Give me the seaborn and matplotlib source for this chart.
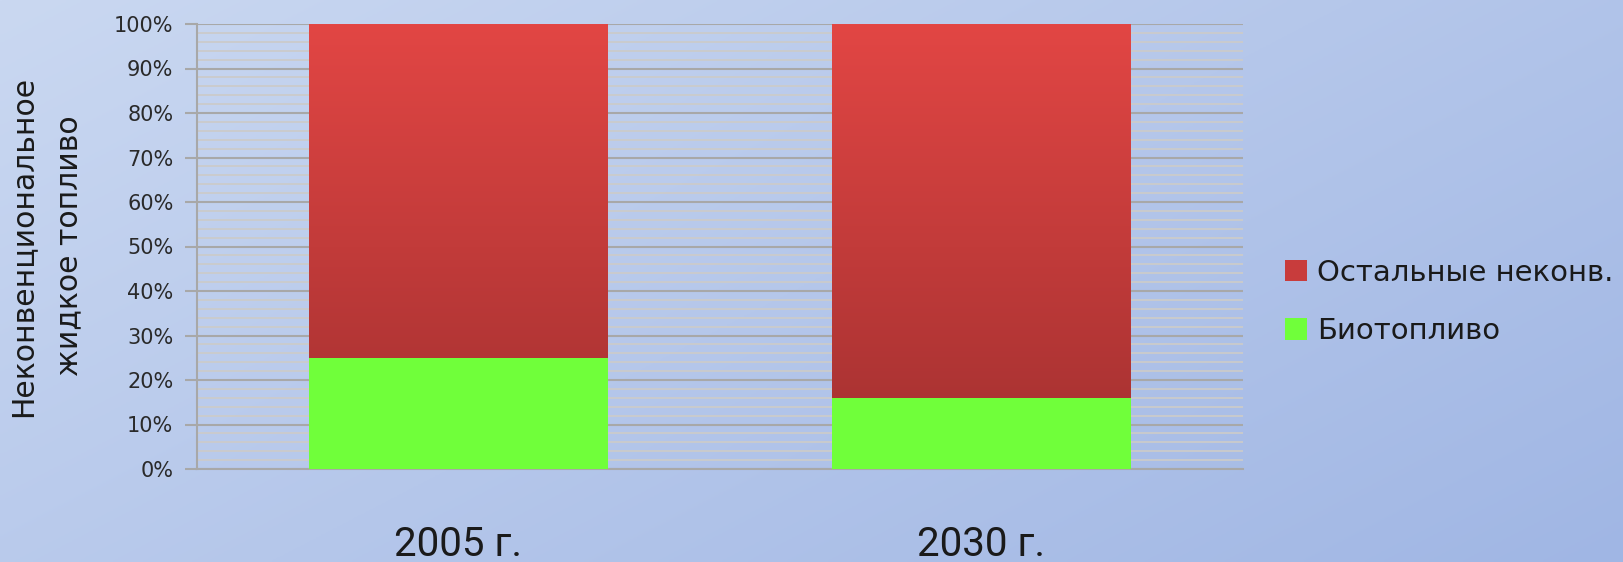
import numpy as np
import pandas as pd
import matplotlib
matplotlib.use("Agg")
import matplotlib.pyplot as plt
import seaborn as sns
from matplotlib.ticker import MultipleLocator, FuncFormatter
from matplotlib.patches import Patch
from matplotlib.colors import LinearSegmentedColormap

# ---- data ----
categories = ["2005 г.", "2030 г."]
bio = [25, 16]
other = [75, 84]
series_names = ["Остальные неконв.", "Биотопливо"]
ylabel = "Неконвенциональное\nжидкое топливо"

sns.set_theme(style="white")
plt.rcParams['font.family'] = ['DejaVu Sans']

W, H = 1624, 562
fig = plt.figure(figsize=(W / 100, H / 100), dpi=100)

# background gradient
bg = fig.add_axes([0, 0, 1, 1], zorder=-10)
yy, xx = np.mgrid[0:1:200j, 0:1:400j]
t = (xx * 0.6 + yy * 0.4)
c0 = np.array([202, 216, 241]) / 255
c1 = np.array([160, 182, 228]) / 255
img = c0[None, None, :] * (1 - t[..., None]) + c1[None, None, :] * t[..., None]
bg.imshow(img, aspect='auto', extent=[0, 1, 0, 1], origin='upper')
bg.set_axis_off()

ax = fig.add_axes([197 / W, 1 - 469 / H, 1046 / W, 445 / H])
ax.set_facecolor('none')

df = pd.DataFrame({"cat": categories, "bio": bio, "other": other})
df["total"] = df["bio"] + df["other"]

sns.barplot(data=df, x="cat", y="total", color="#c83c3c", width=0.57,
            saturation=1, ax=ax, zorder=2, linewidth=0, edgecolor='none')
red_patches = list(ax.patches)
sns.barplot(data=df, x="cat", y="bio", color="#70ff3a", width=0.57,
            saturation=1, ax=ax, zorder=3, linewidth=0, edgecolor='none')

# gradient fill for red bars
red_cmap = LinearSegmentedColormap.from_list("r", ["#a23030", "#e24644"])
grad = np.linspace(0, 1, 256).reshape(-1, 1)
for p in red_patches:
    x0, y0 = p.get_x(), p.get_y()
    w, h = p.get_width(), p.get_height()
    im = ax.imshow(grad, cmap=red_cmap, aspect='auto', origin='lower',
                   extent=[x0, x0 + w, y0, y0 + h], zorder=2.5)
    im.set_clip_path(p)

ax.set_xlim(-0.5, 1.5)
ax.set_ylim(0, 100)
ax.yaxis.set_major_locator(MultipleLocator(10))
ax.yaxis.set_minor_locator(MultipleLocator(2))
ax.yaxis.set_major_formatter(FuncFormatter(lambda v, _: f"{v:.0f}%"))
ax.set_axisbelow(True)
ax.grid(which='minor', axis='y', color='#cbcbcb', linewidth=1.3, zorder=0)
ax.grid(which='major', axis='y', color='#a8a8a8', linewidth=1.5, zorder=0.5)
ax.grid(False, axis='x')

for s in ['top', 'right']:
    ax.spines[s].set_visible(False)
for s in ['left', 'bottom']:
    ax.spines[s].set_color('#a8a8a8')
    ax.spines[s].set_linewidth(1.5)

ax.tick_params(axis='y', which='major', left=True, length=9, width=1.5,
               color='#a8a8a8', labelsize=15, labelcolor='#2a2a2a', pad=8)
ax.tick_params(axis='y', which='minor', left=False)
ax.tick_params(axis='x', length=0, labelsize=29, labelcolor='#1a1a1a', pad=40)
for lab in ax.get_xticklabels():
    lab.set_fontfamily('Roboto')

ax.set_xlabel("")
ax.set_ylabel("")
fig.text(46 / W, 1 - 246 / H, ylabel, rotation=90, ha='center', va='center',
         fontsize=21.5, color='#1a1a1a', linespacing=1.75, multialignment='center')

handles = [Patch(facecolor="#c83c3c", edgecolor='none'),
           Patch(facecolor="#70ff3a", edgecolor='none')]
leg = ax.legend(handles, series_names, loc='center left',
                bbox_to_anchor=(1285 / W, 1 - 302 / H), bbox_transform=fig.transFigure,
                frameon=False, fontsize=21, handlelength=0.75, handleheight=0.75,
                handletextpad=0.35, labelspacing=1.05, borderaxespad=0, borderpad=0)
for txt in leg.get_texts():
    txt.set_color('#1a1a1a')

fig.savefig("out.png", dpi=100)
